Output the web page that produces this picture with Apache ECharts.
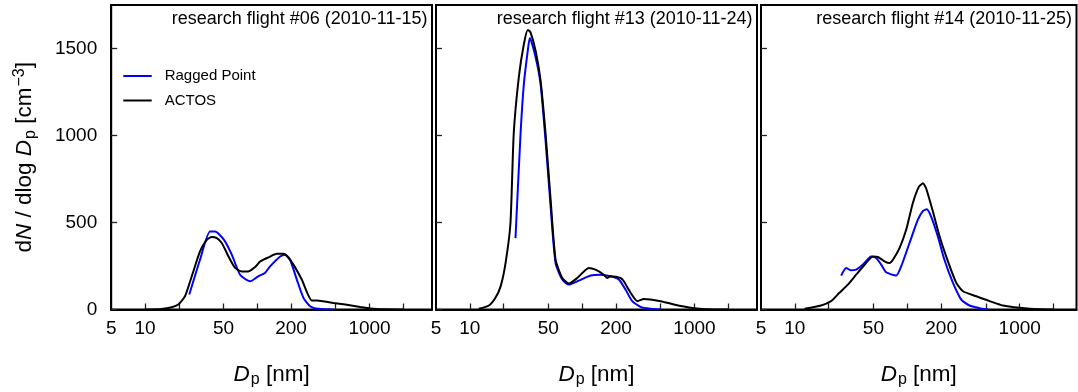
<!DOCTYPE html>
<html>
<head>
<meta charset="utf-8">
<script src="https://cdn.jsdelivr.net/npm/echarts@6/dist/echarts.min.js"></script>
<style>
  html, body { margin: 0; padding: 0; background: #fff; }
  #chart { width: 1078px; height: 392px; }
</style>
</head>
<body>
<div id="chart"></div>
<script>
// Particle number size distributions, dN/dlogDp vs Dp [nm], per research flight.
// Each point is [Dp in nm, dN/dlogDp in cm^-3].
const flightTitles = [
  'research flight #06 (2010-11-15)',
  'research flight #13 (2010-11-24)',
  'research flight #14 (2010-11-25)'
];
const seriesNames = ['Ragged Point', 'ACTOS'];

const rf06RaggedPoint = [[24.8,86],[30.9,286],[37.9,448],[42.1,448],[50.6,400],[59.3,315],[70.3,200],[86.3,162],[102,191],[117,210],[130,248],[160,305],[177,315],[196,286],[225,172],[258,67],[296,19],[351,4],[478,0]];
const rf06Actos = [[10,0],[14,3],[17.3,13],[19.8,29],[22.7,76],[26.1,191],[30.9,334],[35.5,400],[39.3,416],[43.6,410],[48.3,382],[55.4,305],[63.5,239],[72.8,219],[83.4,219],[95.7,244],[106,276],[126,300],[149,320],[171,320],[183,309],[210,258],[249,172],[306,52],[340,52],[478,38],[607,29],[826,15],[1014,6],[1400,1],[2000,0]];

const rf13RaggedPoint = [[25.5,410],[28.3,1012],[30.3,1298],[32.8,1488],[34.2,1561],[38.5,1450],[42.6,1298],[47.2,973],[52.4,591],[58,267],[66.5,172],[76.2,143],[93.5,166],[119,195],[146,200],[179,191],[212,172],[243,115],[279,48],[331,15],[406,4],[500,0]];
const rf13Actos = [[12,4],[14.8,23],[16.9,67],[18.8,133],[20.8,267],[23,496],[24.6,1012],[27.3,1336],[30.3,1526],[32.8,1607],[34.7,1593],[38.5,1488],[42.6,1317],[47.2,1012],[52.4,630],[58,286],[66.5,181],[76.2,149],[90.4,181],[114.7,239],[131.6,229],[156,200],[167,181],[179,191],[220,181],[235,162],[270,96],[310,48],[355,61],[500,48],[656,29],[923,10],[1300,1],[2000,0]];

const rf14RaggedPoint = [[25.8,195],[28.6,239],[31.6,225],[35.1,229],[40.3,258],[47.7,305],[52.9,296],[58.6,258],[64.9,214],[79.7,195],[88.3,248],[104.7,382],[124,515],[138,567],[149,576],[163,534],[187,420],[214,286],[255,153],[302,57],[358,23],[440,8],[522,0]];
const rf14Actos = [[12.2,4],[17.1,23],[21,48],[24.9,96],[29.6,143],[35.1,200],[43,267],[49.3,305],[54.7,302],[62.7,277],[69.5,267],[74.5,286],[85.3,353],[97.8,458],[112,611],[127,706],[138,725],[147,697],[169,563],[194,420],[230,277],[273,153],[313,105],[411,76],[540,48],[709,23],[998,10],[1503,1],[2000,0]];

const xTickValues = [10, 20, 50, 100, 200, 500, 1000, 2000];
const xLabelValues = [5, 10, 50, 200, 1000];
const yTickValues = [0, 500, 1000, 1500];
const xRanges = [[5, 3600], [5, 3600], [5, 3200]];
const yRange = [0, 1750];

const FONT = '"Liberation Sans", Arial, Helvetica, sans-serif';
const panels = [
  { left: 111.2, width: 320.8, rp: rf06RaggedPoint, ac: rf06Actos },
  { left: 436,   width: 321,   rp: rf13RaggedPoint, ac: rf13Actos },
  { left: 761,   width: 315.5, rp: rf14RaggedPoint, ac: rf14Actos }
];
const W = 1078;

const nameRich = {
  n: { fontFamily: FONT, fontSize: 22.5, color: '#000' },
  i: { fontFamily: FONT, fontSize: 22.5, fontStyle: 'italic', color: '#000' },
  s: { fontFamily: FONT, fontSize: 16, color: '#000', padding: [10, 0, 0, 1] },
  u: { fontFamily: FONT, fontSize: 16, color: '#000', padding: [0, 0, 12, 1] }
};

const grids = [], xAxes = [], yAxes = [], titles = [], series = [];
panels.forEach((p, k) => {
  grids.push({
    left: p.left, top: 5, width: p.width, height: 304.5,
    show: true, borderColor: '#000', borderWidth: 2,
    backgroundColor: 'transparent', containLabel: false, outerBoundsMode: 'none'
  });
  xAxes.push({
    type: 'log', logBase: 10, gridIndex: k,
    min: xRanges[k][0], max: xRanges[k][1],
    name: '{i|D}{s|p}{n| [nm]}', nameLocation: 'middle', nameGap: 52,
    nameTextStyle: { rich: nameRich },
    axisLine: { show: true, lineStyle: { color: '#000', width: 2 } },
    axisTick: { show: true, inside: true, length: 6, customValues: xTickValues,
                lineStyle: { color: '#222', width: 1.3 } },
    axisLabel: { show: true, customValues: xLabelValues, margin: 10,
                 fontSize: 19, fontFamily: FONT, color: '#000',
                 formatter: v => String(Math.round(v)) },
    splitLine: { show: false }, minorTick: { show: false }
  });
  yAxes.push({
    type: 'value', gridIndex: k, min: yRange[0], max: yRange[1],
    name: k === 0 ? '{n|d}{i|N}{n| / dlog }{i|D}{s|p}{n| [cm}{u|\u22123}{n|]}' : '',
    nameLocation: 'middle', nameRotate: 90, nameGap: 72,
    nameTextStyle: { rich: nameRich },
    axisLine: { show: true, lineStyle: { color: '#000', width: 2 } },
    axisTick: { show: true, inside: true, length: 6, customValues: yTickValues,
                lineStyle: { color: '#222', width: 1.3 } },
    axisLabel: { show: k === 0, customValues: yTickValues, margin: 14,
                 fontSize: 19, fontFamily: FONT, color: '#000',
                 formatter: v => String(v) },
    splitLine: { show: false }
  });
  titles.push({
    text: flightTitles[k],
    right: W - (p.left + p.width) + 4.5, top: 10.5, padding: 0,
    textStyle: { fontSize: 18, fontWeight: 'normal', fontFamily: FONT, color: '#000' }
  });
  series.push({
    name: seriesNames[0], type: 'line', xAxisIndex: k, yAxisIndex: k,
    data: p.rp, symbol: 'none', smooth: 0.2,
    lineStyle: { color: '#0000ff', width: 2 }, itemStyle: { color: '#0000ff' }
  });
  series.push({
    name: seriesNames[1], type: 'line', xAxisIndex: k, yAxisIndex: k,
    data: p.ac, symbol: 'none', smooth: 0.2,
    lineStyle: { color: '#000000', width: 2 }, itemStyle: { color: '#000000' }
  });
});

const chart = echarts.init(document.getElementById('chart'), null, { renderer: 'canvas' });
chart.setOption({
  animation: false,
  backgroundColor: '#fff',
  textStyle: { fontFamily: FONT },
  title: titles,
  legend: {
    data: seriesNames, orient: 'vertical', left: 123.3, top: 68.5, padding: 0,
    icon: 'rect', itemWidth: 28.4, itemHeight: 2, itemGap: 9.5,
    formatter: name => '{t|' + name + '}',
    textStyle: { rich: { t: { fontFamily: FONT, fontSize: 15, lineHeight: 17, color: '#000', padding: [0, 0, 0, 8] } } }
  },
  grid: grids,
  xAxis: xAxes,
  yAxis: yAxes,
  series: series
});
</script>
</body>
</html>
